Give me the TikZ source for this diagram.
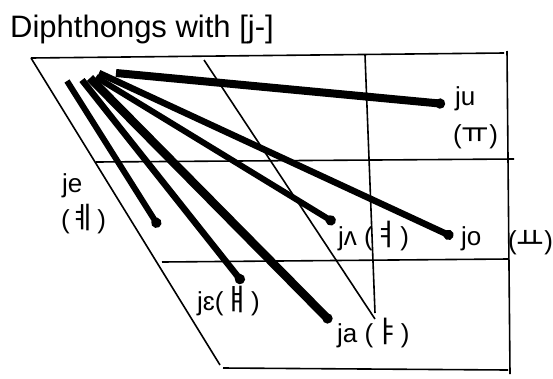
\documentclass[tikz,border=0pt]{standalone}
\usepackage{fontspec}
\setmainfont{Liberation Sans}
\newfontfamily\krfont{Noto Sans CJK KR}
\newcommand{\jamo}[1]{{\krfont\fontsize{30}{30}\selectfont #1}}
\usetikzlibrary{arrows.meta}
\begin{document}
\begin{tikzpicture}[x=1pt,y=-1pt,
  frame/.style={line width=1.6pt},
  glide/.style={line width=#1, -{Circle[length=10pt,width=10pt]}},
  lbl/.style={font=\fontsize{26}{30}\selectfont, inner sep=0pt, anchor=base west},
  ttl/.style={font=\fontsize{31}{36}\selectfont, inner sep=0pt, anchor=base west}]
\useasboundingbox[fill=white] (0,0) rectangle (553,378);
% frame
\draw[frame] (31,58) -- (504,53);
\draw[frame] (31,58) -- (220,365);
\draw[frame] (223,368) -- (508,370);
\draw[frame] (507,51) -- (510,374);
\draw[frame] (96,162) -- (514,159);
\draw[frame] (162,262) -- (508,259);
\draw[frame] (204,60) -- (375,319);
\draw[frame] (365,55) -- (375,313);
% title
\node[ttl] (title) at (10,37) {Diphthongs with [j-]};
% start and end points
\coordinate (s1) at (67,81);   \coordinate (e1) at (159,227);
\coordinate (s2) at (82,80);   \coordinate (e2) at (243,283);
\coordinate (s3) at (90,78);   \coordinate (e3) at (331,322);
\coordinate (s4) at (96,77);   \coordinate (e4) at (335,223);
\coordinate (s5) at (99,73);   \coordinate (e5) at (453,237);
\coordinate (s6) at (116,73);  \coordinate (e6) at (445,104);
\draw[glide=6pt] (s1) -- (e1);
\draw[glide=6.5pt] (s2) -- (e2);
\draw[glide=8.5pt] (s3) -- (e3);
\draw[glide=6pt] (s4) -- (e4);
\draw[glide=6.5pt] (s5) -- (e5);
\draw[glide=8pt] (s6) -- (e6);
% labels
\node[lbl] (ju) at (455,105) {ju};
\node[lbl] (juk) at (453,143) {(\jamo{ㅠ})};
\node[lbl] (je) at (62,192) {je};
\node[lbl] (jek) at (61,228) {(\jamo{ㅖ})};
\node[lbl] (jae) at (197,310) {jɛ(\jamo{ㅒ})};
\node[lbl] (jeo) at (338,245) {jʌ (\jamo{ㅕ})};
\node[lbl] (jo) at (461,245) {jo};
\node[lbl] (jok) at (508,249) {(\jamo{ㅛ})};
\node[lbl] (ja) at (337,342) {ja (\jamo{ㅑ})};
\end{tikzpicture}
\end{document}
